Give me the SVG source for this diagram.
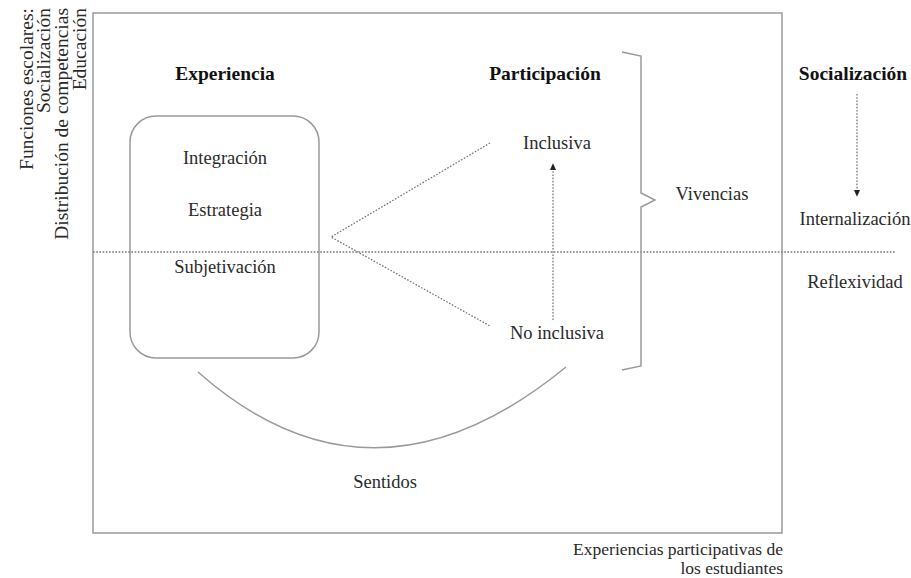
<svg xmlns="http://www.w3.org/2000/svg" width="911" height="578" viewBox="0 0 911 578">
<style>
text{font-family:"Liberation Serif","Times New Roman",serif;fill:#2a2a2a;font-size:18.5px}
.b{font-weight:bold;font-size:19.5px;fill:#111}
.c{text-anchor:middle}
.s{font-size:19.5px}
.cap{font-size:17.5px;text-anchor:end}
.solid{fill:none;stroke:#9a9a9a;stroke-width:1.5}
.dot{fill:none;stroke:#777;stroke-width:1.3;stroke-dasharray:1.6 1.6}
</style>
<defs>
<marker id="ah" viewBox="0 0 10 10" refX="8" refY="5" markerWidth="6" markerHeight="6" orient="auto"><path d="M0,1 L9,5 L0,9 z" fill="#222"/></marker>
</defs>
<rect width="911" height="578" fill="#fff"/>
<g id="frame"><rect x="93" y="13" width="689" height="520" class="solid"/></g>
<g id="side-labels">
<g transform="translate(33,8) rotate(-90)"><text class="s" text-anchor="end">Funciones escolares:</text></g>
<g transform="translate(50,8) rotate(-90)"><text class="s" text-anchor="end">Socialización</text></g>
<g transform="translate(68,8) rotate(-90)"><text class="s" text-anchor="end">Distribución de competencias</text></g>
<g transform="translate(86,8) rotate(-90)"><text class="s" text-anchor="end">Educación</text></g>
</g>
<g id="experiencia">
<text x="225" y="80" class="b c">Experiencia</text>
<rect x="130" y="116" width="189" height="242" rx="26" class="solid"/>
<text x="225" y="164" class="c">Integración</text>
<text x="225" y="216" class="c">Estrategia</text>
<text x="225" y="273" class="c">Subjetivación</text>
</g>
<g id="participacion">
<text x="545" y="80" class="b c">Participación</text>
<text x="557" y="149" class="c">Inclusiva</text>
<text x="557" y="339" class="c">No inclusiva</text>
</g>
<g id="vivencias"><text x="712" y="200" class="c">Vivencias</text></g>
<g id="socializacion">
<text x="853" y="80" class="b c">Socialización</text>
<text x="855" y="225" class="c">Internalización</text>
<text x="855" y="288" class="c">Reflexividad</text>
</g>
<g id="sentidos"><text x="385" y="488" class="c">Sentidos</text></g>
<g id="caption">
<text x="783" y="555" class="cap">Experiencias participativas de</text>
<text x="783" y="574" class="cap">los estudiantes</text>
</g>
<g id="connectors">
<line x1="93" y1="252" x2="896" y2="252" class="dot"/>
<polyline points="490,143 331,237 490,326" class="dot"/>
<line x1="553" y1="320" x2="553" y2="164" class="dot" marker-end="url(#ah)"/>
<line x1="857" y1="94" x2="857" y2="196" class="dot" marker-end="url(#ah)"/>
<path d="M622,52 L641,56 L641,193 L655,200 L641,207 L641,366 L622,370" class="solid"/>
<path d="M198,372 Q372,526 566,367" class="solid"/>
</g>
</svg>
